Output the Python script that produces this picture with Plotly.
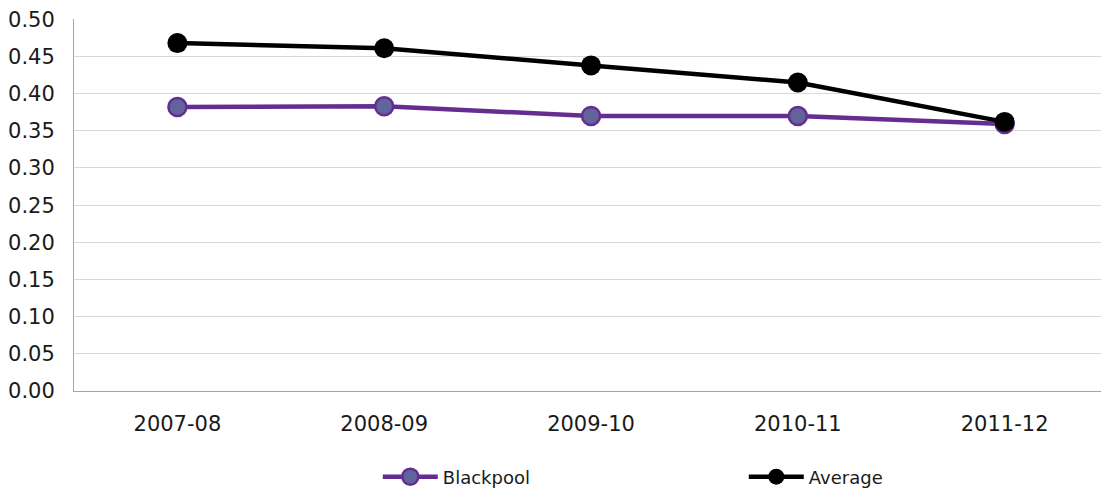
import plotly.graph_objects as go

categories = ["2007-08", "2008-09", "2009-10", "2010-11", "2011-12"]
blackpool = [0.382, 0.383, 0.370, 0.370, 0.359]
average = [0.468, 0.461, 0.438, 0.415, 0.362]
y_ticks = [0.00, 0.05, 0.10, 0.15, 0.20, 0.25, 0.30, 0.35, 0.40, 0.45, 0.50]

fig = go.Figure()
fig.add_trace(go.Scatter(
    x=list(range(len(categories))), y=blackpool, name="Blackpool", mode="lines+markers",
    line=dict(color="#662D91", width=4.5),
    marker=dict(size=18, color="#60649A", line=dict(color="#662D91", width=2.5)),
))
fig.add_trace(go.Scatter(
    x=list(range(len(categories))), y=average, name="Average", mode="lines+markers",
    line=dict(color="#000000", width=4.5),
    marker=dict(size=20, color="#000000"),
))

fig.update_layout(
    width=1101, height=488,
    margin=dict(l=74, r=0, t=19, b=97, autoexpand=False),
    plot_bgcolor="white", paper_bgcolor="white",
    font=dict(family="DejaVu Sans", size=18, color="#1a1a1a"),
    showlegend=True,
    legend=dict(orientation="h", x=0.2958, xanchor="left", y=-0.231, yanchor="middle",
                entrywidth=296, entrywidthmode="pixels", font=dict(size=18),
                itemwidth=55),
)
fig.update_xaxes(
    tickmode="array", tickvals=list(range(len(categories))), ticktext=categories,
    range=[-0.5, 4.466], showgrid=False, showline=True, linecolor="#A6A6A6", linewidth=1,
    ticks="outside", ticklen=0, tickfont=dict(size=21), zeroline=False, automargin=False,
    ticklabelstandoff=14,
)
fig.update_yaxes(
    range=[0, 0.5004], tickmode="array", tickvals=y_ticks, ticktext=[f"{v:.2f}" for v in y_ticks],
    showgrid=True, gridcolor="#D9D9D9", gridwidth=1, showline=True, linecolor="#A6A6A6",
    linewidth=1, zeroline=False, tickfont=dict(size=21), ticks="outside", ticklen=0,
    automargin=False, ticklabelstandoff=14, ticklabeloverflow="allow",
)
fig.write_html("out.html", config={"displayModeBar": False},
               post_script="document.body.style.margin='0';document.body.style.overflow='hidden';")
